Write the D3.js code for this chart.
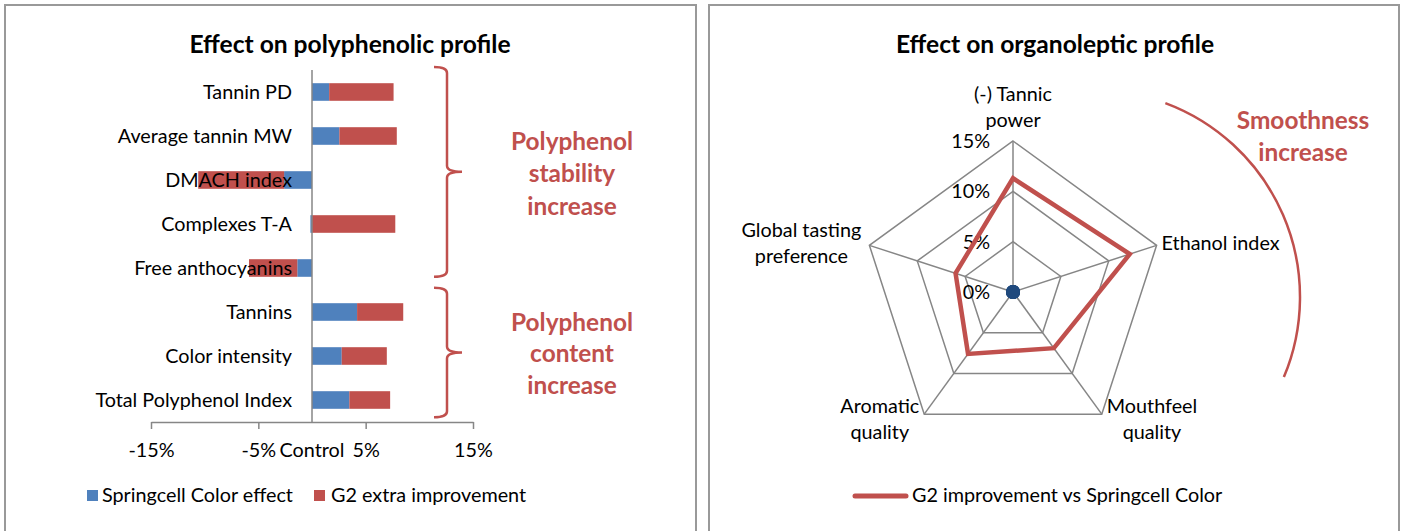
<!DOCTYPE html>
<html>
<head>
<meta charset="utf-8">
<script src="https://cdn.jsdelivr.net/npm/d3@7"></script>
<style>
  body { margin: 0; background: #fff; }
  svg text { font-family: Lato, "Open Sans", sans-serif; fill: #000; }
  .title { font-weight: bold; font-size: 24.6px; }
  .lbl { font-size: 19.8px; }
  .note { font-weight: bold; font-size: 24.4px; fill: #C0504D; }
</style>
</head>
<body>
<script>
"use strict"

// bar chart data (share vs control)
const categories = ["Tannin PD", "Average tannin MW", "DMACH index", "Complexes T-A",
  "Free anthocyanins", "Tannins", "Color intensity", "Total Polyphenol Index"];
const springcellEffect = [0.016, 0.0255, -0.026, -0.0015, -0.0137, 0.042, 0.0277, 0.0348];
const g2Extra = [0.060, 0.0535, -0.080, 0.0776, -0.045, 0.043, 0.042, 0.038];
const xTickValues = [-0.15, -0.05, 0.05, 0.15];
const xTickLabels = ["-15%", "-5%", "5%", "15%"];
const barSeriesNames = ["Springcell Color effect", "G2 extra improvement"];

// radar data
const radarAxes = [["(-) Tannic", "power"], ["Ethanol index"], ["Mouthfeel", "quality"],
  ["Aromatic", "quality"], ["Global tasting", "preference"]];
const g2Improvement = [0.113, 0.122, 0.069, 0.076, 0.060];
const springcellBase = [0, 0, 0, 0, 0];
const radarTicks = [0, 0.05, 0.10, 0.15];
const radarTickLabels = ["0%", "5%", "10%", "15%"];

const BLUE = "#4F81BD", RED = "#C0504D", GRID = "#868686", DOT = "#1F497D";

const svg = d3.select("body").append("svg")
  .attr("width", 1403).attr("height", 531);

// panel frames
svg.append("path").attr("d", "M5,540V5H696V540")
  .attr("fill", "none").attr("stroke", "#999").attr("stroke-width", 2);
svg.append("path").attr("d", "M709,540V5H1399V540")
  .attr("fill", "none").attr("stroke", "#999").attr("stroke-width", 2);

// ---------- left: stacked bars ----------
const x = d3.scaleLinear().domain([-0.15, 0.15]).range([151, 473]);
const y = d3.scaleBand().domain(categories).range([70, 422])
  .paddingInner(0.6).paddingOuter(0.3);

svg.append("text").attr("class", "title")
  .attr("x", 350).attr("y", 43).attr("text-anchor", "middle")
  .attr("dominant-baseline", "central").text("Effect on polyphenolic profile");

const rows = categories.map((c, i) => ({ cat: c, a: springcellEffect[i], b: g2Extra[i] }));
const stacked = d3.stack().keys(["a", "b"]).offset(d3.stackOffsetDiverging)(rows);
const colors = [BLUE, RED];

svg.append("g").selectAll("g")
  .data(stacked)
  .join("g")
    .attr("fill", (d, i) => colors[i])
  .selectAll("rect")
  .data(d => d)
  .join("rect")
    .attr("x", d => x(Math.min(d[0], d[1])))
    .attr("width", d => Math.abs(x(d[1]) - x(d[0])))
    .attr("y", d => y(d.data.cat))
    .attr("height", y.bandwidth());

// axes
const xAxis = svg.append("g")
  .attr("transform", `translate(0,${y.range()[1]})`)
  .call(d3.axisBottom(x).tickValues(xTickValues)
    .tickFormat((d, i) => xTickLabels[i]).tickSize(7).tickSizeOuter(0));
xAxis.select(".domain").attr("stroke", GRID).attr("stroke-width", 1.5);
xAxis.selectAll(".tick line").attr("stroke", GRID).attr("stroke-width", 1.5);
xAxis.selectAll(".tick text").attr("class", "lbl").attr("y", 28)
  .attr("dy", "0.35em");
xAxis.attr("font-size", null).attr("font-family", null);

svg.append("text").attr("class", "lbl")
  .attr("x", x(0)).attr("y", y.range()[1] + 28).attr("dy", "0.35em")
  .attr("text-anchor", "middle").text("Control");

svg.append("line")
  .attr("x1", x(0)).attr("x2", x(0))
  .attr("y1", y.range()[0]).attr("y2", y.range()[1])
  .attr("stroke", GRID).attr("stroke-width", 1.5);

svg.append("g").selectAll("text")
  .data(categories)
  .join("text")
    .attr("class", "lbl")
    .attr("x", 292)
    .attr("y", d => y(d) + y.bandwidth() / 2)
    .attr("dy", "0.35em")
    .attr("text-anchor", "end")
    .text(d => d);

// braces
function brace(top, bottom, xs) {
  const mid = (top + bottom) / 2;
  const p = d3.path();
  p.moveTo(xs, top);
  p.quadraticCurveTo(xs + 13, top, xs + 13, top + 6);
  p.lineTo(xs + 13, mid - 6);
  p.quadraticCurveTo(xs + 13, mid, xs + 28, mid);
  p.quadraticCurveTo(xs + 13, mid, xs + 13, mid + 6);
  p.lineTo(xs + 13, bottom - 6);
  p.quadraticCurveTo(xs + 13, bottom, xs, bottom);
  return p.toString();
}
const step = y.step();
const b1top = y(categories[0]) - step * 0.37, b1bot = y(categories[4]) + y.bandwidth();
const b2top = y(categories[5]) - step * 0.35, b2bot = y(categories[7]) + y.bandwidth() + step * 0.19;
[[b1top, b1bot], [b2top, b2bot]].forEach(([t, b]) => {
  svg.append("path").attr("d", brace(t, b, 434))
    .attr("fill", "none").attr("stroke", RED).attr("stroke-width", 2.5);
});

const notes1 = ["Polyphenol", "stability", "increase"];
const notes2 = ["Polyphenol", "content", "increase"];
svg.append("text").attr("class", "note").attr("text-anchor", "middle")
  .selectAll("tspan").data(notes1).join("tspan")
  .attr("x", 572).attr("y", (d, i) => 141 + i * 32.5).attr("dy", "0.35em").text(d => d);
svg.append("text").attr("class", "note").attr("text-anchor", "middle")
  .selectAll("tspan").data(notes2).join("tspan")
  .attr("x", 572).attr("y", (d, i) => 322 + i * 31.5).attr("dy", "0.35em").text(d => d);

// legend
const legL = svg.append("g");
[[87, 102], [314, 331]].forEach(([sx, tx], i) => {
  legL.append("rect").attr("x", sx).attr("y", 490).attr("width", 11).attr("height", 11)
    .attr("fill", colors[i]);
  legL.append("text").attr("class", "lbl").attr("x", tx).attr("y", 495).attr("dy", "0.35em")
    .text(barSeriesNames[i]);
});

// ---------- right: radar ----------
const cx = 1013, cy = 292;
const r = d3.scaleLinear().domain([0, 0.15]).range([0, 151]);
const n = radarAxes.length;
const ang = i => -Math.PI / 2 + i * 2 * Math.PI / n;
const pt = (i, v) => [cx + r(v) * Math.cos(ang(i)), cy + r(v) * Math.sin(ang(i))];

svg.append("text").attr("class", "title")
  .attr("x", 1055).attr("y", 43).attr("text-anchor", "middle")
  .attr("dominant-baseline", "central").text("Effect on organoleptic profile");

const grid = svg.append("g").attr("fill", "none").attr("stroke", GRID).attr("stroke-width", 1.5);
radarTicks.filter(t => t > 0).forEach(t => {
  grid.append("path").attr("d", d3.line()(d3.range(n).map(i => pt(i, t))) + "Z");
});
d3.range(n).forEach(i => {
  const [ex, ey] = pt(i, radarTicks[radarTicks.length - 1]);
  grid.append("line").attr("x1", cx).attr("y1", cy).attr("x2", ex).attr("y2", ey);
});

svg.append("g").selectAll("text")
  .data(radarTicks)
  .join("text")
    .attr("class", "lbl")
    .attr("x", cx - 23)
    .attr("y", d => cy - r(d))
    .attr("dy", "0.35em")
    .attr("text-anchor", "end")
    .text((d, i) => radarTickLabels[i]);

// axis labels
const lh = 26;
radarAxes.forEach((lines, i) => {
  const [vx, vy] = pt(i, radarTicks[radarTicks.length - 1]);
  const t = svg.append("text").attr("class", "lbl").attr("text-anchor", "middle");
  const spans = t.selectAll("tspan").data(lines).join("tspan").text(d => d);
  const w = d3.max(spans.nodes(), s => s.getComputedTextLength());
  const c = Math.cos(ang(i)), s = Math.sin(ang(i));
  let tx, ty0;
  if (Math.abs(c) < 0.1) {
    tx = vx;
    ty0 = vy - 21 - (lines.length - 1) * lh;
  } else {
    const pad = (c < 0 && s < 0) ? 8 : 5;
    tx = c > 0 ? vx + pad + w / 2 : vx - pad - w / 2;
    const midY = vy + (s > 0.5 ? 5 : -2);
    ty0 = midY - (lines.length - 1) * lh / 2;
  }
  spans.attr("x", tx).attr("y", (d, k) => ty0 + k * lh).attr("dy", "0.35em");
});

// series
svg.append("path")
  .attr("d", d3.line()(g2Improvement.map((v, i) => pt(i, v))) + "Z")
  .attr("fill", "none").attr("stroke", RED).attr("stroke-width", 4.5)
  .attr("stroke-linejoin", "miter");

svg.append("g").selectAll("circle")
  .data(springcellBase)
  .join("circle")
    .attr("cx", (d, i) => pt(i, d)[0])
    .attr("cy", (d, i) => pt(i, d)[1])
    .attr("r", 7)
    .attr("fill", DOT);

// smoothness arc annotation
const arcPath = d3.path();
arcPath.arc(cx + 80, cy + 5, 207, Math.atan2(-193, 72), Math.atan2(81, 193));
svg.append("path").attr("d", arcPath.toString())
  .attr("fill", "none").attr("stroke", RED).attr("stroke-width", 2.5);

svg.append("text").attr("class", "note").attr("text-anchor", "middle")
  .selectAll("tspan").data(["Smoothness", "increase"]).join("tspan")
  .attr("x", 1303).attr("y", (d, i) => 120 + i * 32.5).attr("dy", "0.35em").text(d => d);

// legend right
svg.append("line").attr("x1", 855).attr("x2", 906).attr("y1", 496).attr("y2", 496)
  .attr("stroke", RED).attr("stroke-width", 5).attr("stroke-linecap", "round");
svg.append("text").attr("class", "lbl").attr("x", 912).attr("y", 495).attr("dy", "0.35em")
  .text("G2 improvement vs Springcell Color");
</script>
</body>
</html>
